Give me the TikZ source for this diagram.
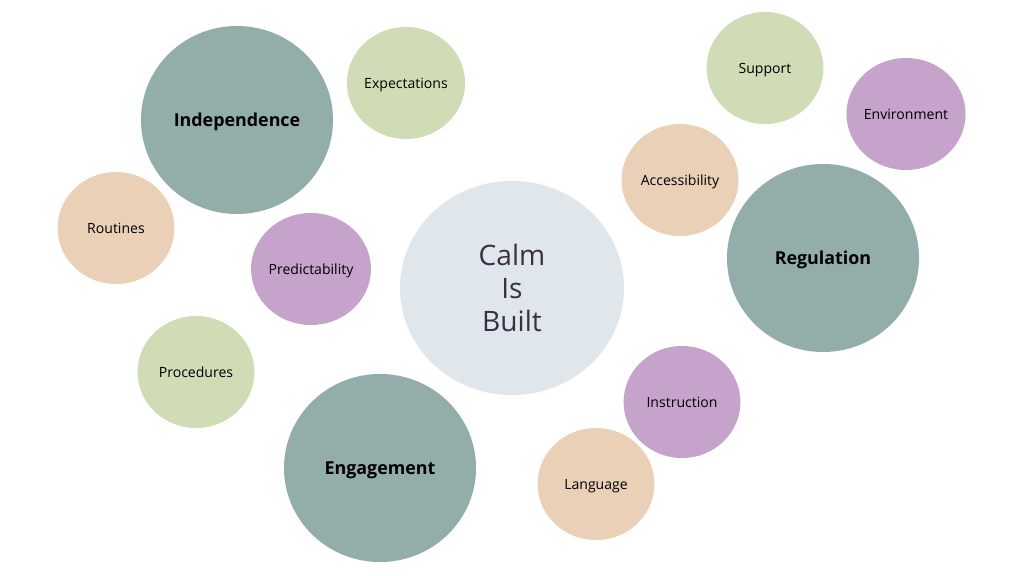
\documentclass[tikz,border=0pt]{standalone}
\usepackage{fontspec}
\setmainfont{Open Sans}
\usepackage{tikz}
\usetikzlibrary{shapes.geometric}
\definecolor{SageTeal}{RGB}{147,173,171}
\definecolor{PaleGreen}{RGB}{207,220,181}
\definecolor{SoftPeach}{RGB}{233,208,183}
\definecolor{Lilac}{RGB}{198,163,203}
\definecolor{MistBlue}{RGB}{223,230,236}
\definecolor{Plum}{RGB}{59,47,72}

\begin{document}
\begin{tikzpicture}[x=0.025cm,y=-0.025cm,
    bubble/.style={ellipse,inner sep=0pt,draw=none,text depth=0pt},
    big/.style={bubble,minimum width=4.8cm,minimum height=4.7cm,font=\fontsize{12.7}{15}\selectfont\bfseries},
    small/.style={bubble,minimum width=2.92cm,minimum height=2.8cm,font=\fontsize{10}{12}\selectfont},
    hub/.style={bubble,fill=MistBlue,minimum width=5.6cm,minimum height=5.35cm,align=center,text=Plum,font=\fontsize{20}{23.5}\selectfont}]
      \useasboundingbox[fill=white] (0,0) rectangle (1024,576);
      % centre
      \node[hub] (calm) at (512,288) {Calm\\Is\\Built};
      % large bubbles
      \node[big,fill=SageTeal] (indep) at (237,120) {Independence};
      \node[big,fill=SageTeal] (regul) at (823,258) {Regulation};
      \node[big,fill=SageTeal] (engag) at (380,468) {Engagement};
      % small bubbles
      \node[small,fill=PaleGreen] (expect) at (406,83) {Expectations};
      \node[small,fill=PaleGreen] (support) at (765,68) {Support};
      \node[small,fill=PaleGreen] (proced) at (196,372) {Procedures};
      \node[small,fill=Lilac] (environ) at (906,114) {Environment};
      \node[small,fill=Lilac] (predict) at (311,269) {Predictability};
      \node[small,fill=Lilac] (instruct) at (682,402) {Instruction};
      \node[small,fill=SoftPeach] (access) at (680,180) {Accessibility};
      \node[small,fill=SoftPeach] (routine) at (116,228) {Routines};
      \node[small,fill=SoftPeach] (lang) at (596,484) {Language};
    \end{tikzpicture}
\end{document}
